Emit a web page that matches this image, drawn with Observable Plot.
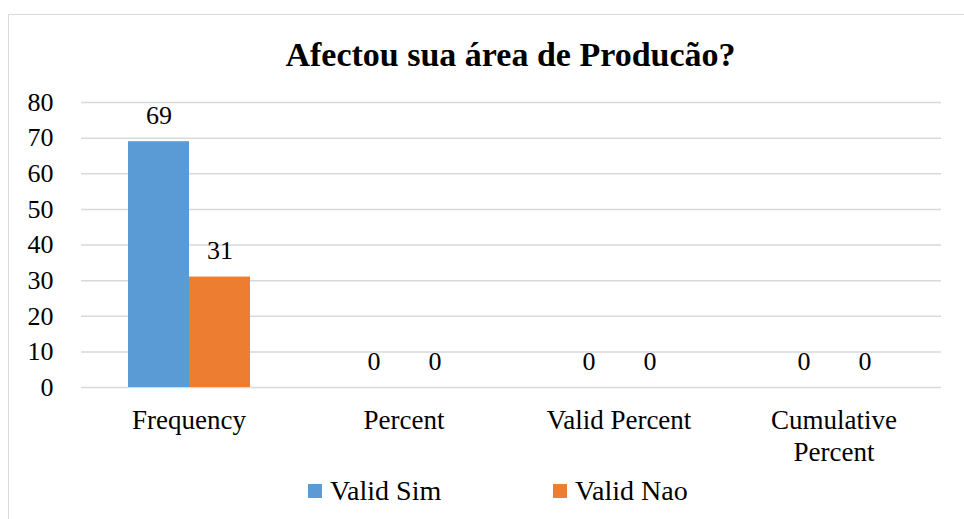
<!DOCTYPE html>
<html>
<head>
<meta charset="utf-8">
<script src="https://cdn.jsdelivr.net/npm/d3@7"></script>
<script src="https://cdn.jsdelivr.net/npm/@observablehq/plot@0.6"></script>
<style>
  html, body { margin: 0; padding: 0; background: #fff; }
  body { width: 964px; height: 519px; position: relative; overflow: hidden;
         font-family: 'Liberation Serif', 'Times New Roman', serif; color: #000; }
  #frame { position: absolute; left: 8px; top: 14px; width: 980px; height: 540px;
           border-left: 1.5px solid #d9d9d9; border-top: 1.5px solid #d9d9d9; }
  #title { position: absolute; left: 0; width: 1021px; top: 35px; text-align: center;
           font-family: 'Liberation Serif', serif;
           font-weight: bold; font-size: 34px; line-height: 40px; white-space: nowrap; }
  #chart { position: absolute; left: 0; top: 0; }
  #legend { position: absolute; top: 476px; left: 0; width: 964px; height: 30px;
            font-family: 'Liberation Serif', serif; font-size: 28px; line-height: 30px; }
  .item { position: absolute; top: 0; white-space: nowrap; font-family: 'Liberation Serif', serif; }
  .sw { display: inline-block; width: 14px; height: 14px; margin-right: 8px; vertical-align: 2px; }
</style>
</head>
<body>
<div id="frame"></div>
<div id="title"></div>
<div id="chart"></div>
<div id="legend"></div>
<script>
const titleText = "Afectou sua área de Producão?";
const categories = ["Frequency", "Percent", "Valid Percent", "Cumulative Percent"];
const seriesNames = ["Valid Sim", "Valid Nao"];
const simValues = [69, 0, 0, 0];
const naoValues = [31, 0, 0, 0];
const yTicks = [0, 10, 20, 30, 40, 50, 60, 70, 80];
const colors = ["#5B9BD5", "#ED7D31"];

const data = [];
categories.forEach((c, i) => {
  data.push({category: c, series: seriesNames[0], value: simValues[i]});
  data.push({category: c, series: seriesNames[1], value: naoValues[i]});
});

document.getElementById("title").textContent = titleText;

const font = "'Liberation Serif', serif";
const chart = Plot.plot({
  width: 964,
  height: 470,
  marginLeft: 80,
  marginRight: 23,
  marginTop: 102,
  marginBottom: 83,
  style: {fontFamily: font, fontSize: "26px", color: "#000", background: "transparent", overflow: "visible"},
  fx: {domain: categories, padding: 0, label: null, axis: null},
  x: {domain: seriesNames, paddingInner: 0, paddingOuter: 0.74, axis: null},
  y: {domain: [0, 80], label: null},
  color: {domain: seriesNames, range: colors},
  marks: [
    Plot.gridY(yTicks, {stroke: "#d9d9d9", strokeOpacity: 1, strokeWidth: 1.5}),
    Plot.barY(data, {fx: "category", x: "series", y: "value", fill: "series"}),
    Plot.text(data, {fx: "category", x: "series", y: "value", text: d => String(d.value),
      lineAnchor: "bottom", dy: -18, fontSize: 26, fill: "#000", fontFamily: font}),
    Plot.axisY(yTicks, {tickSize: 0, tickPadding: 28, fontSize: 26, label: null, fontFamily: font, fill: "#000",
      tickFormat: d => String(d)}),
    Plot.axisFx({anchor: "bottom", tickSize: 0, tickPadding: 19, fontSize: 27, lineHeight: 1.19, label: null,
      fontFamily: font, fill: "#000",
      tickFormat: d => d === "Cumulative Percent" ? "Cumulative\nPercent" : d})
  ]
});
document.getElementById("chart").appendChild(chart);

const legend = document.getElementById("legend");
const legendX = [308, 553];
seriesNames.forEach((s, i) => {
  const item = document.createElement("div");
  item.className = "item";
  item.style.left = legendX[i] + "px";
  const sw = document.createElement("span");
  sw.className = "sw";
  sw.style.background = colors[i];
  item.appendChild(sw);
  item.appendChild(document.createTextNode(s));
  legend.appendChild(item);
});
</script>
</body>
</html>
